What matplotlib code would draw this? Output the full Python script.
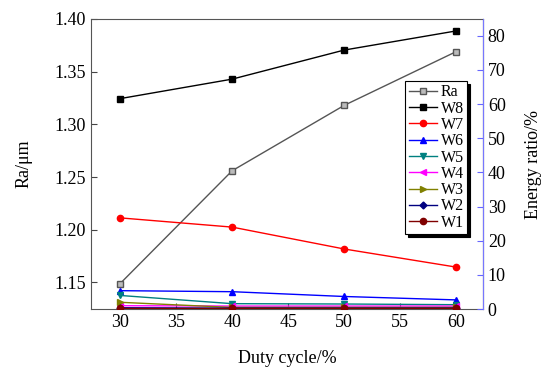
import numpy as np
import matplotlib.pyplot as plt

plt.rcParams['font.family'] = ['Liberation Serif', 'DejaVu Serif']

duty = [30, 40, 50, 60]
ra = [1.149, 1.256, 1.318, 1.369]

# energy ratio (%) of wavelet bands
w8 = [61.6, 67.3, 75.8, 81.4]
w7 = [26.7, 24.0, 17.6, 12.3]
w6 = [5.4, 5.1, 3.7, 2.7]
w5 = [4.0, 1.6, 1.5, 1.3]
w4 = [1.0, 0.9, 0.9, 0.9]
w3 = [2.0, 0.5, 0.5, 0.5]
w2 = [0.4, 0.3, 0.3, 0.3]
w1 = [0.2, 0.2, 0.2, 0.2]

fig = plt.figure(figsize=(5.52, 3.72), dpi=100)
ax = fig.add_axes([0.165, 0.169, 0.710, 0.780])
ax2 = ax.twinx()

h_ra, = ax.plot(duty, ra, color='#555555', lw=1, marker='s', ms=4,
                mfc='#bbbbbb', mec='#555555', label='Ra')

bands = [
    ('W8', w8, 'black', 's'),
    ('W7', w7, 'red', 'o'),
    ('W6', w6, 'blue', '^'),
    ('W5', w5, '#008080', 'v'),
    ('W4', w4, 'magenta', '<'),
    ('W3', w3, '#808000', '>'),
    ('W2', w2, '#000080', 'D'),
    ('W1', w1, '#800000', 'o'),
]
handles = [h_ra]
for name, vals, col, mk in bands:
    ms = 3.5 if mk == 'D' else 4.5
    h, = ax2.plot(duty, vals, color=col, lw=1, marker=mk, ms=ms, label=name)
    handles.append(h)

ax.set_xlim(27.4, 62.4)
ax.set_ylim(1.1247, 1.3992)
ax2.set_ylim(0, 84.9)
ax.set_xticks([30, 35, 40, 45, 50, 55, 60])
ax.set_yticks([1.15, 1.20, 1.25, 1.30, 1.35, 1.40])
ax.set_yticklabels(['1.15', '1.20', '1.25', '1.30', '1.35', '1.40'])
ax2.set_yticks(range(0, 81, 10))

ax.tick_params(direction='in', labelsize=13, length=4, color='#444444')
ax2.tick_params(direction='in', labelsize=13, length=4, color='#6666ff')

for s in ['left', 'top', 'bottom']:
    ax.spines[s].set_color('#555555')
ax2.spines['right'].set_color('#7777ff')
ax2.spines['left'].set_visible(False)
ax2.spines['top'].set_visible(False)
ax2.spines['bottom'].set_visible(False)

ax.set_xlabel('Duty cycle/%', fontsize=13, labelpad=14)
ax.set_ylabel('Ra/μm', fontsize=13, labelpad=16)
ax2.set_ylabel('Energy ratio/%', fontsize=13, labelpad=14)

leg = ax2.legend(handles=handles, loc='upper right', bbox_to_anchor=(0.959, 0.786),
                 borderaxespad=0, fancybox=False, fontsize=11.5, handlelength=1.8,
                 handletextpad=0.2, labelspacing=0.02, borderpad=0.2,
                 shadow={'color': 'black', 'alpha': 1})
leg.get_frame().set_edgecolor('black')
leg.get_frame().set_linewidth(0.8)

fig.savefig('out.png', dpi=100)
